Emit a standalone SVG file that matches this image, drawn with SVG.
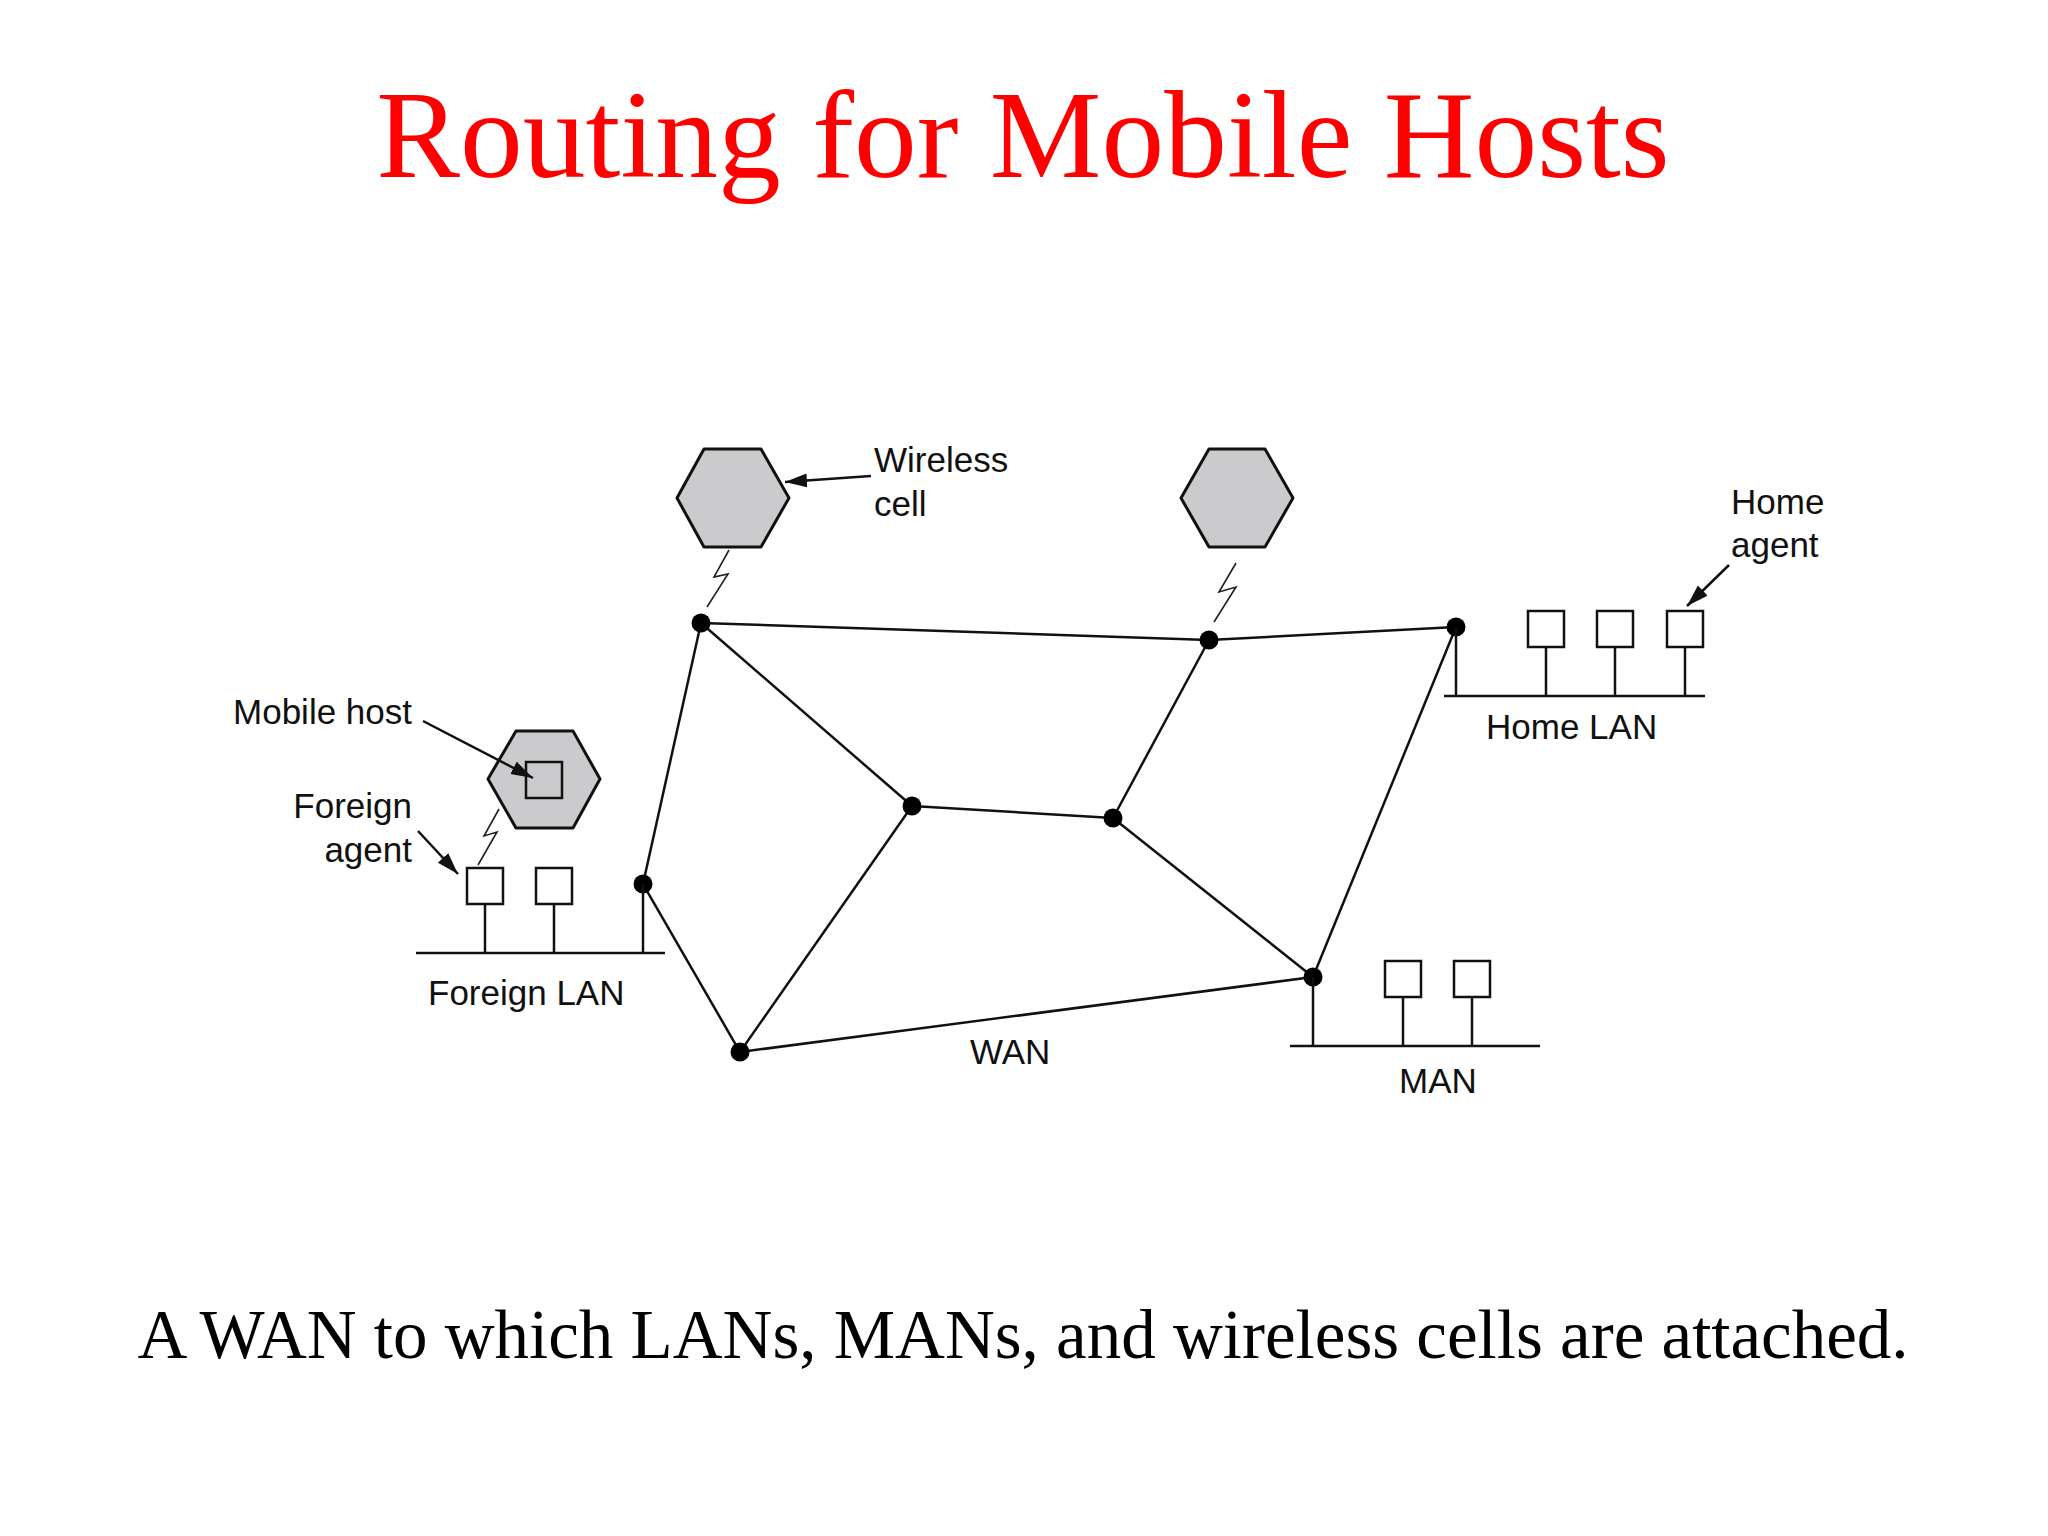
<svg xmlns="http://www.w3.org/2000/svg" width="2048" height="1536" viewBox="0 0 2048 1536">
<style>
.title{font-family:"Liberation Serif","Times New Roman",serif;font-size:125.5px;fill:#ff0000}
.cap{font-family:"Liberation Serif","Times New Roman",serif;font-size:69px;fill:#000}
.lbl{font-family:"Liberation Sans",Arial,sans-serif;font-size:35px;fill:#111}
.hex{fill:#cbcbcd;stroke:#111;stroke-width:3;stroke-linejoin:round}
.box{fill:#fff;stroke:#111;stroke-width:2.5}
.wire{fill:none;stroke:#111;stroke-width:2.5}
.bolt{fill:none;stroke:#222;stroke-width:1.6}
.dot{fill:#000}
.arr{fill:none;stroke:#111;stroke-width:2.5;marker-end:url(#ah)}
</style>
<defs>
<marker id="ah" markerUnits="userSpaceOnUse" markerWidth="24" markerHeight="16" refX="22" refY="7" orient="auto">
<path d="M0,0 L22,7 L0,14 Z" fill="#111"/>
</marker>
</defs>
<rect width="2048" height="1536" fill="#fff"/>
<text class="title" x="1023" y="177" text-anchor="middle">Routing for Mobile Hosts</text>

<g id="connectors">
<line class="wire" x1="701" y1="623" x2="1209" y2="640"/>
<line class="wire" x1="1209" y1="640" x2="1456" y2="627"/>
<line class="wire" x1="701" y1="623" x2="912" y2="806"/>
<line class="wire" x1="701" y1="623" x2="643" y2="884"/>
<line class="wire" x1="912" y1="806" x2="1113" y2="818"/>
<line class="wire" x1="912" y1="806" x2="740" y2="1052"/>
<line class="wire" x1="1113" y1="818" x2="1209" y2="640"/>
<line class="wire" x1="1113" y1="818" x2="1313" y2="977"/>
<line class="wire" x1="643" y1="884" x2="740" y2="1052"/>
<line class="wire" x1="740" y1="1052" x2="1313" y2="977"/>
<line class="wire" x1="1456" y1="627" x2="1313" y2="977"/>
<polyline class="bolt" points="729,550 714,577 728,574 707,607"/>
<polyline class="bolt" points="1236,563 1219,592 1236,587 1214,622"/>
<polyline class="bolt" points="499,809 484,836 497,832 478,865"/>
</g>

<g id="routers">
<circle class="dot" cx="701" cy="623" r="9.5"/>
<circle class="dot" cx="1209" cy="640" r="9.5"/>
<circle class="dot" cx="1456" cy="627" r="9.5"/>
<circle class="dot" cx="912" cy="806" r="9.5"/>
<circle class="dot" cx="1113" cy="818" r="9.5"/>
<circle class="dot" cx="643" cy="884" r="9.5"/>
<circle class="dot" cx="740" cy="1052" r="9.5"/>
<circle class="dot" cx="1313" cy="977" r="9.5"/>
</g>

<g id="wireless-cell-1">
<polygon class="hex" points="704,449 761,449 789,498 761,547 704,547 677,498"/>
<text class="lbl" x="874" y="472">Wireless</text>
<text class="lbl" x="874" y="516">cell</text>
</g>

<g id="wireless-cell-2">
<polygon class="hex" points="1209,449 1265,449 1293,498 1265,547 1209,547 1181,498"/>
</g>

<g id="mobile-cell">
<polygon class="hex" points="516,731 573,731 600,779 573,828 516,828 488,779"/>
<rect x="526" y="762" width="36" height="36" fill="none" stroke="#111" stroke-width="2.5"/>
<text class="lbl" x="412" y="724" text-anchor="end">Mobile host</text>
</g>

<g id="foreign-lan">
<line class="wire" x1="416" y1="953" x2="665" y2="953"/>
<line class="wire" x1="643" y1="884" x2="643" y2="953"/>
<line class="wire" x1="485" y1="904" x2="485" y2="953"/>
<line class="wire" x1="554" y1="904" x2="554" y2="953"/>
<rect class="box" x="467" y="868" width="36" height="36"/>
<rect class="box" x="536" y="868" width="36" height="36"/>
<text class="lbl" x="412" y="818" text-anchor="end">Foreign</text>
<text class="lbl" x="412" y="862" text-anchor="end">agent</text>
<text class="lbl" x="428" y="1005">Foreign LAN</text>
</g>

<g id="home-lan">
<line class="wire" x1="1444" y1="696" x2="1705" y2="696"/>
<line class="wire" x1="1456" y1="627" x2="1456" y2="696"/>
<line class="wire" x1="1546" y1="647" x2="1546" y2="696"/>
<line class="wire" x1="1615" y1="647" x2="1615" y2="696"/>
<line class="wire" x1="1685" y1="647" x2="1685" y2="696"/>
<rect class="box" x="1528" y="611" width="36" height="36"/>
<rect class="box" x="1597" y="611" width="36" height="36"/>
<rect class="box" x="1667" y="611" width="36" height="36"/>
<text class="lbl" x="1731" y="514">Home</text>
<text class="lbl" x="1731" y="557">agent</text>
<text class="lbl" x="1486" y="739">Home LAN</text>
</g>

<g id="man">
<line class="wire" x1="1290" y1="1046" x2="1540" y2="1046"/>
<line class="wire" x1="1313" y1="977" x2="1313" y2="1046"/>
<line class="wire" x1="1403" y1="997" x2="1403" y2="1046"/>
<line class="wire" x1="1472" y1="997" x2="1472" y2="1046"/>
<rect class="box" x="1385" y="961" width="36" height="36"/>
<rect class="box" x="1454" y="961" width="36" height="36"/>
<text class="lbl" x="1399" y="1093">MAN</text>
</g>

<g id="wan-label">
<text class="lbl" x="970" y="1064">WAN</text>
</g>

<g id="pointer-arrows">
<line class="arr" x1="871" y1="476" x2="785" y2="482"/>
<line class="arr" x1="423" y1="721" x2="533" y2="778"/>
<line class="arr" x1="418" y1="831" x2="458" y2="874"/>
<line class="arr" x1="1729" y1="565" x2="1687" y2="606"/>
</g>

<text class="cap" x="1023" y="1358" text-anchor="middle">A WAN to which LANs, MANs, and wireless cells are attached.</text>
</svg>
